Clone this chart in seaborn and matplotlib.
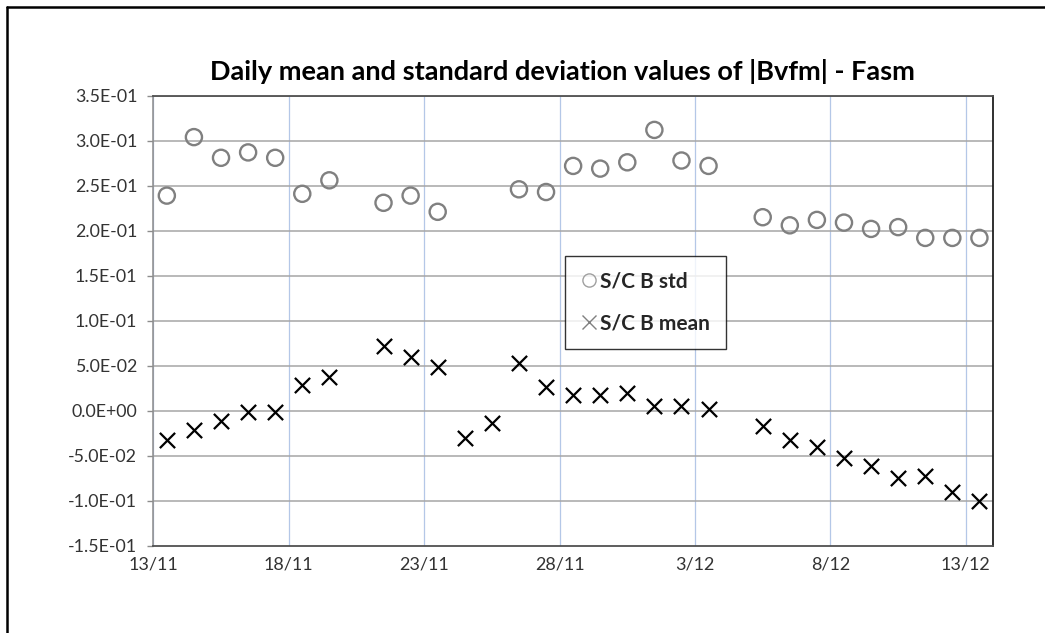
import matplotlib
matplotlib.use("Agg")
import matplotlib.pyplot as plt
import matplotlib.dates as mdates
from matplotlib.ticker import FuncFormatter, MultipleLocator
from matplotlib.lines import Line2D
import seaborn as sns
import pandas as pd
import numpy as np

# ---- data ----
dates = ["2013-11-13", "2013-11-14", "2013-11-15", "2013-11-16", "2013-11-17",
         "2013-11-18", "2013-11-19", "2013-11-21", "2013-11-22", "2013-11-23",
         "2013-11-24", "2013-11-25", "2013-11-26", "2013-11-27", "2013-11-28",
         "2013-11-29", "2013-11-30", "2013-12-01", "2013-12-02", "2013-12-03",
         "2013-12-05", "2013-12-06", "2013-12-07", "2013-12-08", "2013-12-09",
         "2013-12-10", "2013-12-11", "2013-12-12", "2013-12-13"]
std_vals = [0.239, 0.304, 0.281, 0.287, 0.281,
            0.241, 0.256, 0.231, 0.239, 0.221,
            np.nan, np.nan, 0.246, 0.243, 0.272,
            0.269, 0.276, 0.312, 0.278, 0.272,
            0.215, 0.206, 0.212, 0.209, 0.202,
            0.204, 0.192, 0.192, 0.192]
mean_vals = [-0.033, -0.021, -0.011, -0.001, -0.001,
             0.029, 0.037, 0.072, 0.060, 0.049,
             -0.030, -0.014, 0.053, 0.026, 0.018,
             0.017, 0.020, 0.005, 0.005, 0.002,
             -0.017, -0.032, -0.040, -0.053, -0.061,
             -0.075, -0.072, -0.090, -0.100]
tick_dates = ["2013-11-13", "2013-11-18", "2013-11-23", "2013-11-28",
              "2013-12-03", "2013-12-08", "2013-12-13"]
x_limits = ["2013-11-13", "2013-12-14"]
series_names = ["S/C B std", "S/C B mean"]
title = "Daily mean and standard deviation values of |Bvfm| - Fasm"

df = pd.DataFrame({"date": pd.to_datetime(dates) + pd.Timedelta(hours=12),
                   "std": std_vals, "mean": mean_vals})

sns.set_theme(style="white")
plt.rcParams["font.family"] = ["Lato", "DejaVu Sans"]

fig = plt.figure(figsize=(10.45, 6.33), dpi=100)
ax = fig.add_axes([0.1467, 0.1379, 0.9502 - 0.1467, 0.8488 - 0.1379])

sns.scatterplot(data=df, x="date", y="std", marker="o", s=135,
                facecolors="none", edgecolor="#808080", linewidth=1.7,
                ax=ax, zorder=3)
sns.scatterplot(data=df, x="date", y="mean", marker="x", s=120,
                color="black", linewidth=1.6, ax=ax, zorder=3)

ax.set_xlim(pd.to_datetime(x_limits[0]), pd.to_datetime(x_limits[1]))
ax.set_ylim(-0.15, 0.35)
ax.yaxis.set_major_locator(MultipleLocator(0.05))
ax.yaxis.set_major_formatter(FuncFormatter(lambda v, p: f"{v:.1E}"))
ax.set_xticks(pd.to_datetime(tick_dates))
ax.xaxis.set_major_formatter(FuncFormatter(
    lambda v, p: f"{mdates.num2date(v).day}/{mdates.num2date(v).month}"))

ax.set_xlabel("")
ax.set_ylabel("")
ax.grid(False)
ax.set_axisbelow(True)
for yv in np.arange(-0.10, 0.351, 0.05):
    ax.axhline(yv, color="#a6a6a6", lw=1.1, zorder=1)
for td in pd.to_datetime(tick_dates):
    ax.axvline(td, color="#b4c7e7", lw=0.9, zorder=0.5)

for side, col, lw in [("left", "#8c8c8c", 1.1), ("bottom", "#505050", 1.3),
                      ("top", "#505050", 1.3), ("right", "#202020", 1.3)]:
    ax.spines[side].set_visible(True)
    ax.spines[side].set_color(col)
    ax.spines[side].set_linewidth(lw)

ax.tick_params(axis="y", direction="out", length=4.5, width=1.0, color="#8c8c8c",
               labelsize=12.8, labelcolor="#333333", pad=7, left=True)
ax.tick_params(axis="x", length=0, labelsize=13, labelcolor="#333333", pad=8)

handles = [Line2D([], [], marker="o", ls="", ms=9.5, mfc="none", mec="#a0a0a0", mew=1.0),
           Line2D([], [], marker="x", ls="", ms=10.5, color="#808080", mew=1.0)]
leg = ax.legend(handles, series_names, loc="upper left",
                bbox_to_anchor=(0.490, 0.644), borderaxespad=0,
                frameon=True, fancybox=False, edgecolor="black",
                prop={"weight": "bold", "size": 15}, handlelength=0.8,
                handletextpad=0.15, labelspacing=1.05, borderpad=0.75)
leg.get_frame().set_linewidth(1.0)
leg.set_zorder(5)

fig.text(0.538, 1 - 72 / 633, title, ha="center", va="center",
         fontsize=19.5, fontweight="bold", color="black")

# outer chart-area frame (top and left edges visible)
fig.add_artist(Line2D([7 / 1045, 1.0], [1 - 7 / 633, 1 - 7 / 633],
                      transform=fig.transFigure, color="black", lw=1.8))
fig.add_artist(Line2D([7 / 1045, 7 / 1045], [0.0, 1 - 7 / 633],
                      transform=fig.transFigure, color="black", lw=1.8))

fig.savefig("out.png", dpi=100)
